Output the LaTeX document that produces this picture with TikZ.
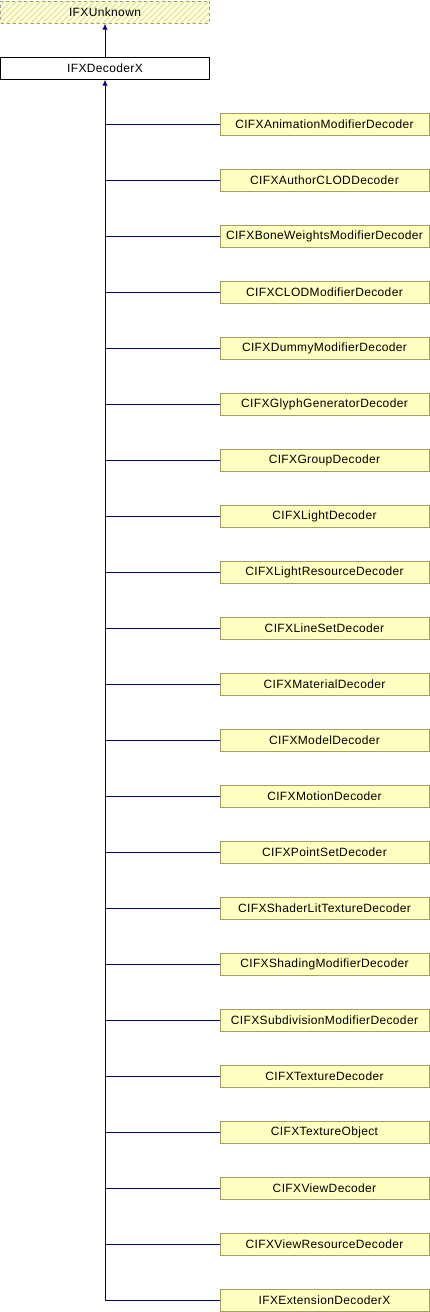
\documentclass[tikz,border=0pt]{standalone}
\usepackage{fontspec}
\setmainfont[LetterSpace=3]{Liberation Sans}
\definecolor{edgeblue}{HTML}{000080}
\definecolor{boxfill}{HTML}{FFFFC0}
\definecolor{boxdraw}{HTML}{A0A060}
\definecolor{hatchbg}{HTML}{FFFFE8}
\definecolor{hatchln}{HTML}{E8E890}
\definecolor{dashdraw}{HTML}{A0A080}
\tikzset{
  lbl/.style={font=\fontsize{12pt}{14pt}\selectfont},
  cls/.style={lbl, draw=boxdraw, fill=boxfill, minimum width=209pt, minimum height=22pt, inner sep=0pt, line width=1pt},
  base/.style={lbl, draw=black, fill=white, minimum width=209pt, minimum height=22pt, inner sep=0pt, line width=1pt},
  edge/.style={draw=edgeblue, line width=1pt},
  inh/.style={edge, -{Latex[length=6pt,width=5pt]}},
}
\usetikzlibrary{arrows.meta}
\begin{document}
\begin{tikzpicture}[x=1pt,y=-1pt]
\useasboundingbox (0,0) rectangle (430,1312);
% IFXUnknown hatched
\begin{scope}
\clip (0.5,1) rectangle (209.5,23);
\fill[hatchbg] (0,0) rectangle (210,24);
\foreach \i in {-30,-24,...,220} {
  \draw[hatchln, line width=1.2pt] (\i,24) -- (\i+24,0);
}
\end{scope}
\node[lbl, draw=dashdraw, dashed, minimum width=209pt, minimum height=22pt, inner sep=0pt, line width=1pt] (unk) at (105,12) {IFXUnknown};
\node[base] (dec) at (105,68) {IFXDecoderX};
\draw[inh] (dec.north) -- (unk.south);
\foreach \n/\t [count=\k from 0] in {
 a/CIFXAnimationModifierDecoder,
 b/CIFXAuthorCLODDecoder,
 c/CIFXBoneWeightsModifierDecoder,
 d/CIFXCLODModifierDecoder,
 e/CIFXDummyModifierDecoder,
 f/CIFXGlyphGeneratorDecoder,
 g/CIFXGroupDecoder,
 h/CIFXLightDecoder,
 i/CIFXLightResourceDecoder,
 j/CIFXLineSetDecoder,
 k/CIFXMaterialDecoder,
 l/CIFXModelDecoder,
 m/CIFXMotionDecoder,
 n/CIFXPointSetDecoder,
 o/CIFXShaderLitTextureDecoder,
 p/CIFXShadingModifierDecoder,
 q/CIFXSubdivisionModifierDecoder,
 r/CIFXTextureDecoder,
 s/CIFXTextureObject,
 t/CIFXViewDecoder,
 u/CIFXViewResourceDecoder,
 v/IFXExtensionDecoderX} {
  \node[cls] (\n) at (324.5,124+56*\k) {\t};
  \coordinate (j\n) at (105,124+56*\k);
  \draw[edge] (j\n) -- (\n.west);
}
\draw[inh] (jv) -- (dec.south);
\end{tikzpicture}
\end{document}
